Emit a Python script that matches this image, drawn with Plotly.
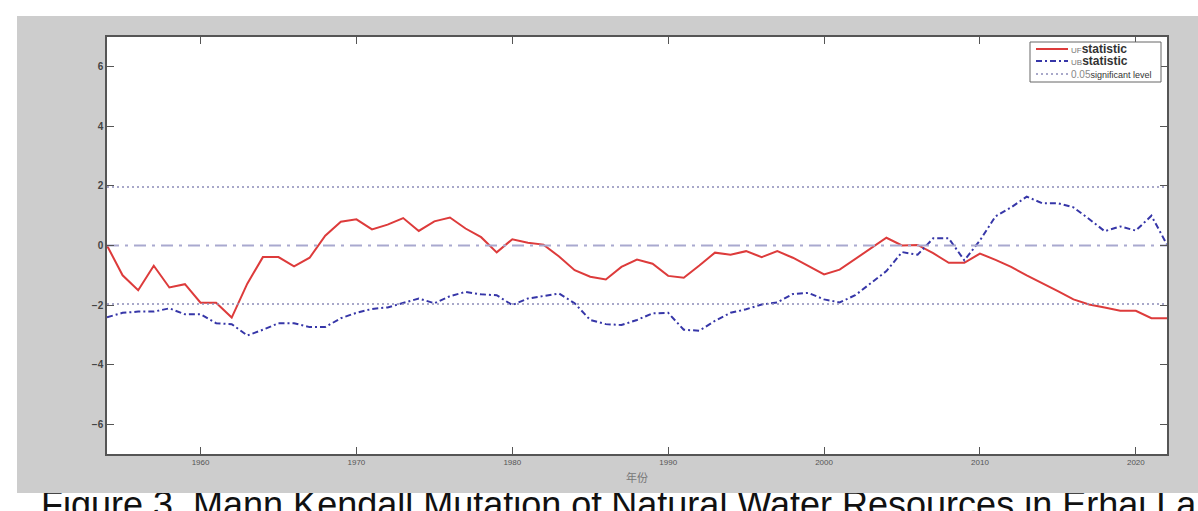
import plotly.graph_objects as go

years = list(range(1954, 2023))

uf = [0.0, -1.0, -1.5, -0.68, -1.41, -1.3, -1.92, -1.92, -2.42, -1.28,
      -0.39, -0.39, -0.7, -0.41, 0.33, 0.8, 0.88, 0.54, 0.7, 0.92,
      0.49, 0.81, 0.94, 0.57, 0.28, -0.23, 0.21, 0.09, 0.03, -0.37,
      -0.83, -1.05, -1.14, -0.72, -0.47, -0.61, -1.02, -1.08, -0.67, -0.24,
      -0.31, -0.19, -0.39, -0.19, -0.41, -0.69, -0.97, -0.81, -0.46, -0.08,
      0.26, 0.0, 0.02, -0.26, -0.58, -0.58, -0.27, -0.48, -0.72, -1.0,
      -1.26, -1.53, -1.81, -1.98, -2.08, -2.19, -2.19, -2.44, -2.44]

ub = [-2.41, -2.26, -2.22, -2.22, -2.11, -2.31, -2.31, -2.61, -2.64, -3.02,
      -2.83, -2.61, -2.61, -2.74, -2.74, -2.44, -2.26, -2.13, -2.08, -1.94,
      -1.78, -1.94, -1.7, -1.56, -1.64, -1.67, -2.0, -1.78, -1.69, -1.61,
      -1.94, -2.5, -2.64, -2.67, -2.5, -2.28, -2.26, -2.83, -2.86, -2.53,
      -2.26, -2.14, -1.98, -1.91, -1.63, -1.59, -1.81, -1.91, -1.67, -1.26,
      -0.86, -0.22, -0.31, 0.24, 0.24, -0.5, 0.17, 0.98, 1.28, 1.64,
      1.42, 1.42, 1.28, 0.89, 0.48, 0.64, 0.5, 1.0, 0.03]

sig_level = 1.96
x_range = [1954, 2022]
y_ticks = [-6, -4, -2, 0, 2, 4, 6]
x_ticks = [1960, 1970, 1980, 1990, 2000, 2010, 2020]

legend_labels = [
    "<span style='font-size:8px;color:#777'>UF</span><span style='font-size:12px'><b>statistic</b></span>",
    "<span style='font-size:8px;color:#777'>UB</span><span style='font-size:12px'><b>statistic</b></span>",
    "<span style='font-size:10px;color:#888'>0.05</span><span style='font-size:9px'>significant level</span>",
]
caption = "Figure 3. Mann Kendall Mutation of Natural Water Resources in Erhai Lake"
x_title = "年份"

UF_STYLE = dict(color="#dd3b3b", width=2)
UB_STYLE = dict(color="#3636a8", width=2, dash="6px,3px,2px,3px")
SIG_STYLE = dict(color="#8c8cb8", width=1.5, dash="2px,3px")
ZERO_STYLE = dict(color="#a9a9cf", width=2, dash="12px,6px,3px,6px")

fig = go.Figure()

fig.add_trace(go.Scatter(x=years, y=uf, mode="lines", line=UF_STYLE))
fig.add_trace(go.Scatter(x=years, y=ub, mode="lines", line=UB_STYLE))
fig.add_trace(go.Scatter(
    x=[x_range[0], x_range[1], None, x_range[0], x_range[1]],
    y=[sig_level, sig_level, None, -sig_level, -sig_level],
    mode="lines", line=SIG_STYLE))
fig.add_trace(go.Scatter(x=x_range, y=[0, 0], mode="lines", line=ZERO_STYLE))

W, H = 1198, 511
L, R, T, B = 107, 1167, 37, 454
pw, ph = R - L, B - T


def px(x):
    return (x - L) / pw


def py(y):
    return (B - y) / ph


# grey figure background and white plot area
fig.add_shape(type="rect", xref="paper", yref="paper", layer="below",
              x0=px(17), x1=px(1210), y0=py(493), y1=py(16),
              fillcolor="#cdcdcd", line=dict(width=0))
fig.add_shape(type="rect", xref="paper", yref="paper", layer="below",
              x0=0, x1=1, y0=0, y1=1, fillcolor="white", line=dict(width=0))

# caption (cut off at the bottom of the picture)
fig.add_annotation(text=caption, xref="paper", yref="paper",
                   x=px(39), y=py(514), xanchor="left", yanchor="bottom",
                   showarrow=False, yshift=-13,
                   font=dict(family="Liberation Sans, Arial", size=36, color="#111"))
# grey strip overlapping top of caption
fig.add_annotation(text=" ", xref="paper", yref="paper",
                   x=px(17), y=py(493), xanchor="left", yanchor="bottom",
                   width=1181, height=7, borderpad=0, borderwidth=0,
                   bgcolor="#cdcdcd", showarrow=False, font=dict(size=1))

# legend box drawn manually (compact, as in the original figure)
fig.add_shape(type="rect", xref="paper", yref="paper", layer="above",
              x0=px(1030), x1=px(1161), y0=py(82), y1=py(42),
              fillcolor="white", line=dict(color="#666", width=1))
row_y = [49, 61, 74]
styles = [UF_STYLE, UB_STYLE, SIG_STYLE]
for ry, st, lab in zip(row_y, styles, legend_labels):
    fig.add_shape(type="line", xref="paper", yref="paper", layer="above",
                  x0=px(1036), x1=px(1068), y0=py(ry), y1=py(ry), line=st)
    fig.add_annotation(text=lab, xref="paper", yref="paper",
                       x=px(1070), y=py(ry), xanchor="left", yanchor="middle",
                       showarrow=False, borderpad=0,
                       font=dict(family="Liberation Sans, Arial", color="#333"))

fig.update_layout(
    width=W, height=H, autosize=False,
    margin=dict(l=L, r=W - R, t=T, b=H - B, pad=0),
    paper_bgcolor="white", plot_bgcolor="white",
    font=dict(family="Liberation Sans, Arial", color="#444"),
    showlegend=False,
    xaxis=dict(range=x_range, tickvals=x_ticks, showgrid=False, zeroline=False,
               showline=True, linecolor="#555", linewidth=1.5, mirror="ticks",
               ticks="inside", ticklen=7, tickcolor="#555", tickwidth=1,
               tickfont=dict(size=8, color="#555"),
               title=dict(text=x_title, standoff=8,
                          font=dict(family="Noto Sans CJK SC", size=11, color="#777"))),
    yaxis=dict(range=[-7, 7], tickvals=y_ticks, showgrid=False, zeroline=False,
               showline=True, linecolor="#555", linewidth=1.5, mirror="ticks",
               ticks="inside", ticklen=7, tickcolor="#555", tickwidth=1,
               tickfont=dict(size=10, color="#444", weight="bold")),
)

fig.write_html("out.html", config={"displayModeBar": False},
               post_script="document.body.style.margin='0';document.body.style.overflow='hidden';")
